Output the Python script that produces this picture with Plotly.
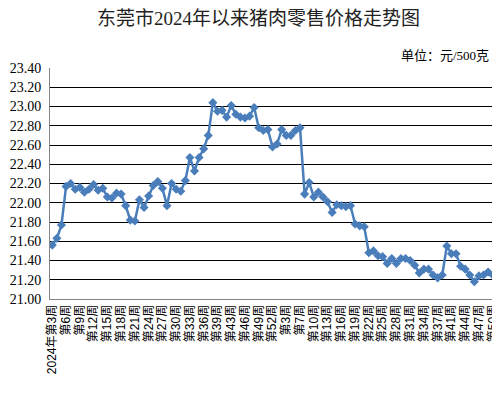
import plotly.graph_objects as go

# ---- data ----
weeks_2024 = [3, 4, 5, 6, 7, 8, 9, 10, 11, 12, 13, 14, 15, 16, 17, 18, 19, 20, 21, 22,
              23, 24, 25, 26, 27, 28, 29, 30, 31, 32, 33, 34, 35, 36, 37, 38, 39,
              41, 42, 43, 44, 45, 46, 47, 48, 49, 50, 51, 52]
weeks_2025 = [1, 2, 3, 4, 6, 7, 8, 9, 10, 11, 12, 13, 14, 15, 16, 17, 18, 19, 20, 21,
              22, 23, 24, 25, 26, 27, 28, 29, 30, 31, 32, 33, 34, 35, 36, 37, 38, 39,
              41, 42, 43, 44, 45, 46, 47, 48, 49, 50]
prices = [21.56, 21.63, 21.77, 22.17, 22.20, 22.14, 22.16, 22.11, 22.14, 22.19,
          22.13, 22.15, 22.06, 22.05, 22.10, 22.09, 21.97, 21.82, 21.81, 22.03,
          21.95, 22.07, 22.18, 22.22, 22.15, 21.97, 22.20, 22.14, 22.12, 22.23,
          22.47, 22.33, 22.47, 22.56, 22.70, 23.04, 22.95, 22.96, 22.89, 23.01,
          22.92, 22.89, 22.88, 22.90, 22.99, 22.78, 22.75, 22.76, 22.58,
          22.61, 22.76, 22.70, 22.70, 22.75, 22.78, 22.09, 22.21, 22.06, 22.11,
          22.06, 22.01, 21.90, 21.98, 21.97, 21.96, 21.97, 21.78, 21.76, 21.75,
          21.48, 21.50, 21.45, 21.44, 21.37, 21.42, 21.37, 21.42, 21.42, 21.40,
          21.35, 21.27, 21.31, 21.31, 21.25, 21.22, 21.25, 21.55, 21.47, 21.47,
          21.34, 21.31, 21.25, 21.18, 21.24, 21.25, 21.28, 21.25]
title_text = "东莞市2024年以来猪肉零售价格走势图"
unit_text = "单位：元/500克"

labels = []
for i, w in enumerate(weeks_2024):
    labels.append(f"2024年第{w}周" if i == 0 else f"第{w}周")
for i, w in enumerate(weeks_2025):
    labels.append(f"2025年第{w}周" if i == 0 else f"第{w}周")

idx = list(range(len(prices)))
tickvals = idx[::3]
ticktext = labels[::3]

fig = go.Figure()
fig.add_trace(go.Scatter(
    x=idx, y=prices, mode="lines+markers",
    line=dict(color="#4A7EBB", width=2.5),
    marker=dict(symbol="diamond", size=7, color="#4A7EBB"),
    text=labels, hovertemplate="%{text}: %{y:.2f}<extra></extra>",
    showlegend=False,
))

# the page body has an 8px margin, so the figure is drawn 8px in from the top-left
OFF = 8
W, H = 500 - OFF, 401 - OFF
PL, PR, PT, PB = 50, 495, 68, 299   # plot area in window pixels
L, R, T, B = PL - OFF, W - (PR - OFF), PT - OFF, H - (PB - OFF)
PW, PH = PR - PL, PB - PT

fig.update_layout(
    width=W, height=H,
    margin=dict(l=L, r=R, t=T, b=B, autoexpand=False),
    paper_bgcolor="white", plot_bgcolor="white",
    xaxis=dict(
        range=[-0.5, len(prices) - 0.5],
        tickmode="array", tickvals=tickvals, ticktext=ticktext,
        tickangle=-90, ticklabeloverflow="allow",
        tickfont=dict(family="Liberation Sans, Noto Sans CJK SC", size=12, color="black"),
        showgrid=False, zeroline=False,
        showline=True, linecolor="#868686", linewidth=1,
        ticks="", fixedrange=True, automargin=False,
    ),
    yaxis=dict(
        range=[21.0, 23.4], dtick=0.2, tick0=21.0, tickformat=".2f",
        tickfont=dict(family="Liberation Serif, Noto Sans CJK SC", size=14, color="black"),
        showgrid=True, gridcolor="black", gridwidth=1,
        zeroline=False, showline=True, linecolor="#868686", linewidth=1,
        ticks="", ticklabelstandoff=5, fixedrange=True, automargin=False,
    ),
    annotations=[
        dict(text=title_text, xref="paper", yref="paper",
             x=(258 - PL) / PW, y=(PB - 19) / PH, xanchor="center", yanchor="middle",
             showarrow=False,
             font=dict(family="Liberation Serif, Noto Sans CJK SC", size=19, color="#222222")),
        dict(text=unit_text, xref="paper", yref="paper",
             x=(491 - PL) / PW, y=(PB - 55) / PH, xanchor="right", yanchor="middle",
             showarrow=False,
             font=dict(family="Liberation Serif, Noto Sans CJK SC", size=13, color="black")),
    ],
)

fig.write_html("out.html")
